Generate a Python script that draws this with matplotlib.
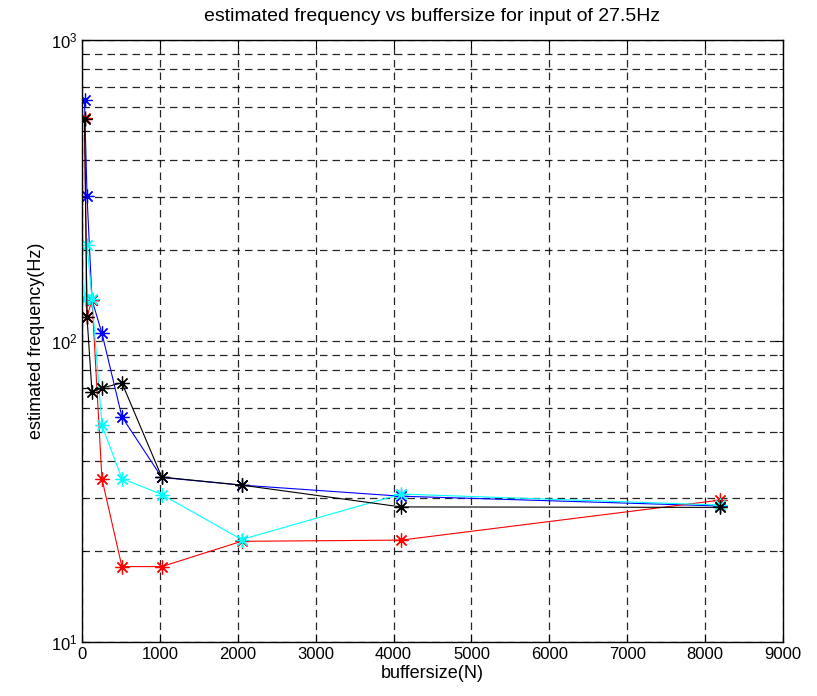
import numpy as np
import matplotlib
matplotlib.use('Agg')
import matplotlib.pyplot as plt
from matplotlib.ticker import LogLocator, NullFormatter

# buffer sizes and estimated frequencies
buffersize = [32, 64, 128, 256, 512, 1024, 2048, 4096, 8192]
freq_blue = [630, 304, 137, 106, 56, 35.2, 33.2, 30.5, 28.3]
freq_red = [550, 120, 137, 34.8, 17.8, 17.8, 21.6, 21.8, 29.6]
freq_cyan = [138, 209, 138, 52.4, 34.9, 30.9, 21.9, 31.0, 28.5]
freq_black = [548, 120, 67.7, 69.8, 72.6, 35.3, 33.2, 28.1, 28.0]

series = [(freq_blue, '#0000ff'), (freq_red, '#ff0000'),
          (freq_cyan, '#00ffff'), (freq_black, '#000000')]

plt.rcParams['font.family'] = ['Liberation Sans', 'DejaVu Sans']

fig = plt.figure(figsize=(8.17, 6.96), dpi=100)
ax = fig.add_axes([0.1004, 0.0776, 0.8580, 0.8650])

# matlab style asterisk: 8 arms
for vals, col in series:
    ax.plot(buffersize, vals, color=col, marker=(8, 2, 0), markersize=10,
            linewidth=0.8, markeredgewidth=0.9)

ax.set_yscale('log')
ax.set_xlim(0, 9000)
ax.set_ylim(10, 1000)
ax.set_xticks(np.arange(0, 9001, 1000))
ax.yaxis.set_minor_locator(LogLocator(base=10, subs=np.arange(2, 10)))
ax.yaxis.set_minor_formatter(NullFormatter())

dash = (0, (6, 4))
ax.grid(True, which='major', color='k', linestyle=dash, linewidth=0.9, alpha=0.85)
ax.grid(True, which='minor', axis='y', color='k', linestyle=dash, linewidth=0.9, alpha=0.85)

ax.tick_params(which='both', direction='in', top=True, right=True, labelsize=12)
ax.tick_params(which='major', length=6)
ax.tick_params(which='minor', length=3)
for s in ax.spines.values():
    s.set_linewidth(1.0)

ax.set_title('estimated frequency vs buffersize for input of 27.5Hz', fontsize=14, pad=14)
ax.set_xlabel('buffersize(N)', fontsize=13, labelpad=2)
ax.set_ylabel('estimated frequency(Hz)', fontsize=13, labelpad=4)

fig.savefig('out.png', dpi=100)
